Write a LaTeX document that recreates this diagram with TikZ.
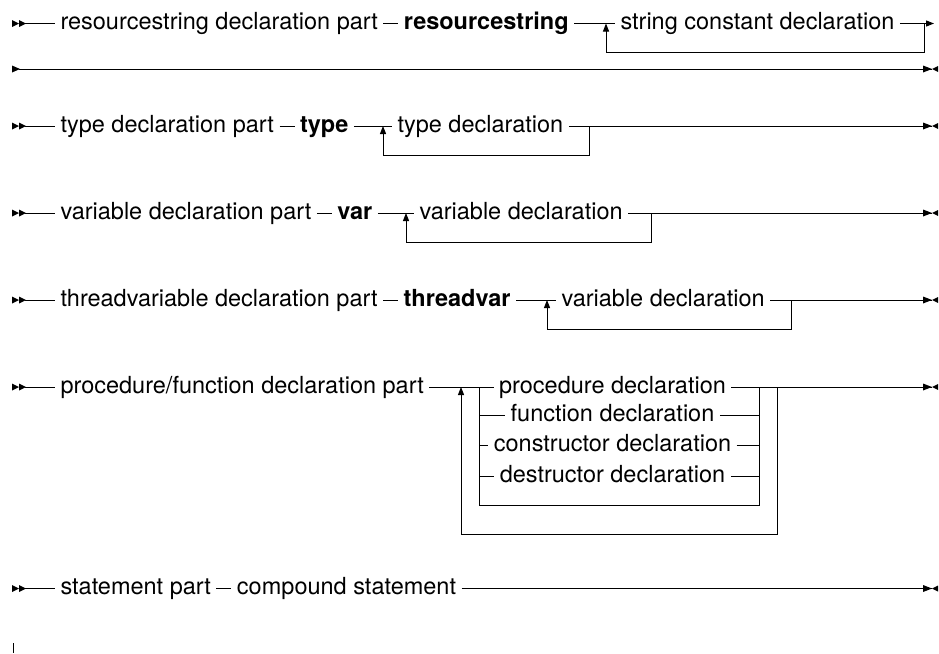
\documentclass[tikz,border=0pt]{standalone}
\usepackage{fontspec}
\setmainfont{TeX Gyre Heros}
\usetikzlibrary{arrows.meta,positioning}
\begin{document}
\begin{tikzpicture}[x=1pt,y=-1pt,line width=1pt,
  lbl/.style={inner xsep=5pt,inner ysep=0pt,text height=12pt,text depth=0pt,font=\fontsize{23.5}{28}\selectfont},
  kw/.style={lbl,font=\fontsize{23.5}{28}\selectfont\bfseries},
  first/.style={lbl,anchor=west},
  up/.style={-{Triangle[length=8pt,width=6pt]}},
  cont/.style={-{Triangle[length=8pt,width=6pt]}},
  startmark/.pic={\fill (0,-3.5) -- (7,0) -- (0,3.5) -- cycle; \fill (7,-3.5) -- (14,0) -- (7,3.5) -- cycle;},
  onestart/.pic={\fill (0,-3.5) -- (8,0) -- (0,3.5) -- cycle;},
  endmark/.pic={\fill (-9,-3.5) -- (0,0) -- (-9,3.5) -- cycle; \fill (6,-3) -- (0,0) -- (6,3) -- cycle;},
]
\useasboundingbox (0,0) rectangle (939,653);

% Row 1
\pic at (12,23.5) {startmark};
\coordinate (s1) at (25,23.5);
\node[first] (a1) at (55,23.5) {resourcestring declaration part};
\node[kw,right=15pt of a1] (b1) {resourcestring};
\coordinate (j1) at (606,23.5);
\node[first] (c1) at (615,23.5) {string constant declaration};
\coordinate (k1) at (924,23.5);
\coordinate (e1) at (934,23.5);
\coordinate (m1) at (924,52);
\coordinate (n1) at (606,52);
\draw (s1) -- (a1) (a1) -- (b1) (b1) -- (c1) (c1) -- (k1);
\draw[cont] (k1) -- (e1);
\draw[up] (k1) -- (m1) -- (n1) -- (j1);

% Row 1b
\pic at (12,69) {onestart};
\coordinate (s1b) at (19,69);
\coordinate (e1b) at (932,69);
\draw (s1b) -- (e1b);
\pic at (e1b) {endmark};

% Row 2
\pic at (12,126) {startmark};
\coordinate (s2) at (25,126);
\node[first] (a2) at (55,126) {type declaration part};
\node[kw,right=15pt of a2] (b2) {type};
\coordinate (j2) at (383,126);
\node[first] (c2) at (392,126) {type declaration};
\coordinate (k2) at (589,126);
\coordinate (e2) at (932,126);
\coordinate (m2) at (589,155);
\coordinate (n2) at (383,155);
\draw (s2) -- (a2) (a2) -- (b2) (b2) -- (c2) (c2) -- (e2);
\draw[up] (k2) -- (m2) -- (n2) -- (j2);
\pic at (e2) {endmark};

% Row 3
\pic at (12,213) {startmark};
\coordinate (s3) at (25,213);
\node[first] (a3) at (55,213) {variable declaration part};
\node[kw,right=15pt of a3] (b3) {var};
\coordinate (j3) at (406,213);
\node[first] (c3) at (414,213) {variable declaration};
\coordinate (k3) at (651,213);
\coordinate (e3) at (932,213);
\coordinate (m3) at (651,242);
\coordinate (n3) at (406,242);
\draw (s3) -- (a3) (a3) -- (b3) (b3) -- (c3) (c3) -- (e3);
\draw[up] (k3) -- (m3) -- (n3) -- (j3);
\pic at (e3) {endmark};

% Row 4
\pic at (12,300) {startmark};
\coordinate (s4) at (25,300);
\node[first] (a4) at (55,300) {threadvariable declaration part};
\node[kw,right=15pt of a4] (b4) {threadvar};
\coordinate (j4) at (547,300);
\node[first] (c4) at (556,300) {variable declaration};
\coordinate (k4) at (791,300);
\coordinate (e4) at (932,300);
\coordinate (m4) at (791,329);
\coordinate (n4) at (547,329);
\draw (s4) -- (a4) (a4) -- (b4) (b4) -- (c4) (c4) -- (e4);
\draw[up] (k4) -- (m4) -- (n4) -- (j4);
\pic at (e4) {endmark};

% Row 5
\pic at (12,387) {startmark};
\coordinate (s5) at (25,387);
\node[first] (a5) at (55,387) {procedure/function declaration part};
\coordinate (jo) at (461,387);
\coordinate (ji) at (479,387);
\node[lbl] (p5) at (612.5,387) {procedure declaration};
\node[lbl] (f5) at (612.5,415) {function declaration};
\node[lbl] (c5) at (612.5,445) {constructor declaration};
\node[lbl] (d5) at (612.5,476) {destructor declaration};
\coordinate (ri) at (759,387);
\coordinate (ro) at (777,387);
\coordinate (e5) at (932,387);
\coordinate (fl) at (479,415);
\coordinate (fr) at (759,415);
\coordinate (cl) at (479,445);
\coordinate (cr) at (759,445);
\coordinate (dl) at (479,476);
\coordinate (dr) at (759,476);
\coordinate (il) at (479,505);
\coordinate (ir) at (759,505);
\coordinate (ol) at (461,534);
\coordinate (or) at (777,534);
\draw (s5) -- (a5) (a5) -- (p5) (p5) -- (e5);
\draw (ji) -- (il) -- (ir) -- (ri);
\draw (fl) -- (f5) (f5) -- (fr);
\draw (cl) -- (c5) (c5) -- (cr);
\draw (dl) -- (d5) (d5) -- (dr);
\draw[up] (ro) -- (or) -- (ol) -- (jo);
\pic at (e5) {endmark};

% Row 6
\pic at (12,588.5) {startmark};
\coordinate (s6) at (25,588.5);
\node[first] (a6) at (55,588.5) {statement part};
\node[lbl,right=15pt of a6] (b6) {compound statement};
\coordinate (e6) at (932,588.5);
\draw (s6) -- (a6) (a6) -- (b6) (b6) -- (e6);
\pic at (e6) {endmark};

% tick
\coordinate (t1) at (13,643);
\coordinate (t2) at (13,653);
\draw (t1) -- (t2);
\end{tikzpicture}
\end{document}
